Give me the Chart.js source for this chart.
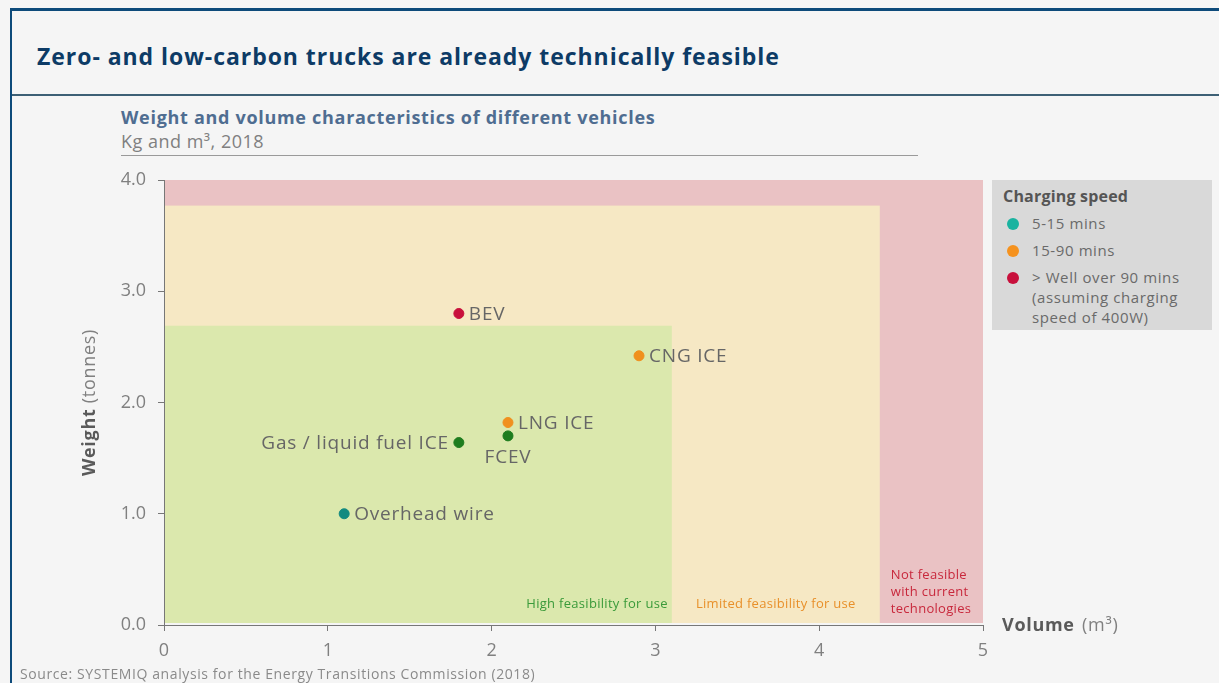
<!DOCTYPE html>
<html>
<head>
<meta charset="utf-8">
<script src="https://cdn.jsdelivr.net/npm/chart.js@4.4.1/dist/chart.umd.min.js"></script>
<style>
  body { margin: 0; background: #f5f5f5; font-family: "Open Sans", Lato, sans-serif; }
  #wrap { position: relative; width: 1219px; height: 683px; overflow: hidden; }
  #frame { position: absolute; left: 10px; top: 8px; width: 1220px; height: 700px;
           border-left: 2px solid #0d4a7a; border-top: 3px solid #0d4a7a; }
  #divider { position: absolute; left: 12px; top: 94px; width: 1210px; height: 0; border-top: 2px solid #3d6075; }
  #title { position: absolute; left: 37px; top: 40px; font-size: 23px; font-weight: bold; color: #0d3b66; letter-spacing: 0.95px; }
  #sub1 { position: absolute; left: 121px; top: 105px; font-size: 18px; font-weight: bold; color: #4f6d91; letter-spacing: 0.7px; }
  #sub2 { position: absolute; left: 121px; top: 129px; font-size: 18px; color: #808080; letter-spacing: 0.5px; }
  #subline { position: absolute; left: 121px; top: 155px; width: 797px; border-top: 1px solid #9a9a9a; }
  #source { position: absolute; left: 20px; top: 664px; font-size: 14px; color: #8a8a8a; letter-spacing: 0.6px; }
  #legend { position: absolute; left: 992px; top: 180px; width: 220px; height: 150px; background: #d9d9d9; }
  #legend .hd { position: absolute; left: 11px; top: 5px; font-size: 16px; font-weight: bold; color: #555; letter-spacing: 0.2px; }
  #legend .it { position: absolute; left: 40px; font-size: 15px; color: #6a6a6a; line-height: 20px; letter-spacing: 0.6px; }
  #legend .dot { position: absolute; left: 15px; width: 12px; height: 12px; border-radius: 50%; }
  canvas { position: absolute; left: 0; top: 0; }
</style>
</head>
<body>
<div id="wrap">
  <div id="frame"></div>
  <div id="divider"></div>
  <div id="title">Zero- and low-carbon trucks are already technically feasible</div>
  <div id="sub1">Weight and volume characteristics of different vehicles</div>
  <div id="sub2">Kg and m³, 2018</div>
  <div id="subline"></div>
  <canvas id="myChart" width="1219" height="683"></canvas>
  <div id="legend">
    <div class="hd">Charging speed</div>
    <div class="dot" style="top:38px;background:#1ab3a0"></div>
    <div class="it" style="top:33px">5-15 mins</div>
    <div class="dot" style="top:65px;background:#f5921e"></div>
    <div class="it" style="top:60px">15-90 mins</div>
    <div class="dot" style="top:92px;background:#c8103c"></div>
    <div class="it" style="top:87px">&gt; Well over 90 mins<br>(assuming charging<br>speed of 400W)</div>
  </div>
  <div id="source">Source: SYSTEMIQ analysis for the Energy Transitions Commission (2018)</div>
</div>
<script>
// vehicles
const vehicles = ['BEV', 'CNG ICE', 'LNG ICE', 'FCEV', 'Gas / liquid fuel ICE', 'Overhead wire'];
const volumes = [1.8, 2.9, 2.1, 2.1, 1.8, 1.1];
const weights = [2.8, 2.42, 1.82, 1.70, 1.64, 1.0];
const pointColors = ['#c8103c', '#f0901e', '#f0901e', '#1e7d1e', '#1e7d1e', '#138a80'];
const labelSide = ['right', 'right', 'right', 'below', 'left', 'right'];

// feasibility zones
const zoneNames = [['Not feasible', 'with current', 'technologies'], ['Limited feasibility for use'], ['High feasibility for use']];
const zoneVolumeMax = [5, 4.37, 3.1];
const zoneWeightMax = [4.0, 3.77, 2.69];
const zoneFill = ['#eac2c4', '#f6e8c4', '#dbe8ad'];
const zoneText = ['#c8283c', '#e8902a', '#3a9a3a'];

const xTicks = [0, 1, 2, 3, 4, 5];
const yTicks = [0, 1, 2, 3, 4];

const FONT = '"Open Sans", Lato, sans-serif';

const zones = {
    id: 'zones',
    beforeDatasetsDraw(chart) {
        const ctx = chart.ctx, x = chart.scales.x, y = chart.scales.y;
        ctx.save();
        zoneVolumeMax.forEach(function(v, i) {
            const x0 = x.getPixelForValue(0) + 1, x1 = x.getPixelForValue(v);
            const y0 = y.getPixelForValue(zoneWeightMax[i]), y1 = y.getPixelForValue(0) - 2;
            ctx.fillStyle = zoneFill[i];
            ctx.fillRect(x0, y0, x1 - x0, y1 - y0);
        });
        ctx.font = '13px ' + FONT;
        ctx.letterSpacing = '0.3px';
        ctx.textBaseline = 'middle';
        // high feasibility - right aligned at its edge
        ctx.fillStyle = zoneText[2];
        ctx.textAlign = 'right';
        ctx.fillText(zoneNames[2][0], x.getPixelForValue(zoneVolumeMax[2]) - 4, y.getPixelForValue(0) - 21);
        // limited - centred in its strip
        ctx.fillStyle = zoneText[1];
        ctx.textAlign = 'center';
        ctx.fillText(zoneNames[1][0], (x.getPixelForValue(zoneVolumeMax[2]) + x.getPixelForValue(zoneVolumeMax[1])) / 2, y.getPixelForValue(0) - 21);
        // not feasible
        ctx.fillStyle = zoneText[0];
        ctx.textAlign = 'left';
        zoneNames[0].forEach(function(t, k) {
            ctx.fillText(t, x.getPixelForValue(zoneVolumeMax[1]) + 11, y.getPixelForValue(0) - 50 + k * 17);
        });
        ctx.restore();
    },
    afterDatasetsDraw(chart) {
        const ctx = chart.ctx;
        const pts = chart.getDatasetMeta(0).data;
        ctx.save();
        ctx.font = '19px ' + FONT;
        ctx.letterSpacing = '0.8px';
        ctx.fillStyle = '#666';
        ctx.textBaseline = 'middle';
        pts.forEach(function(p, i) {
            if (labelSide[i] == 'right') {
                ctx.textAlign = 'left';
                ctx.fillText(vehicles[i], p.x + 10, p.y + 1);
            } else if (labelSide[i] == 'left') {
                ctx.textAlign = 'right';
                ctx.fillText(vehicles[i], p.x - 10, p.y + 1);
            } else {
                ctx.textAlign = 'center';
                ctx.fillText(vehicles[i], p.x, p.y + 22);
            }
        });
        // axis titles
        const a = chart.chartArea;
        ctx.letterSpacing = '0.7px';
        ctx.fillStyle = '#5a5a5a';
        ctx.textAlign = 'left';
        ctx.font = 'bold 18px ' + FONT;
        ctx.fillText('Volume', a.right + 19, a.bottom + 1);
        let w = ctx.measureText('Volume ').width;
        ctx.font = '18px ' + FONT;
        ctx.fillStyle = '#808080';
        ctx.fillText('(m³)', a.right + 21 + w, a.bottom + 1);

        ctx.translate(90, (a.top + a.bottom) / 2);
        ctx.rotate(-Math.PI / 2);
        ctx.font = 'bold 18px ' + FONT;
        const w1 = ctx.measureText('Weight ').width;
        ctx.font = '18px ' + FONT;
        const w2 = ctx.measureText('(tonnes)').width;
        let sx = -(w1 + w2) / 2;
        ctx.font = 'bold 18px ' + FONT;
        ctx.fillStyle = '#5a5a5a';
        ctx.fillText('Weight', sx, 0);
        ctx.font = '18px ' + FONT;
        ctx.fillStyle = '#808080';
        ctx.fillText('(tonnes)', sx + w1, 0);
        ctx.restore();
    }
};

new Chart(document.getElementById('myChart'), {
    type: 'scatter',
    data: {
        datasets: [{
            data: volumes.map(function(v, i) { return { x: v, y: weights[i] }; }),
            backgroundColor: pointColors,
            borderColor: pointColors,
            pointRadius: 5,
            pointHoverRadius: 5
        }]
    },
    options: {
        responsive: false,
        animation: false,
        layout: { padding: { left: 104, top: 180, right: 236, bottom: 18 } },
        plugins: { legend: { display: false }, tooltip: { enabled: false } },
        scales: {
            x: {
                min: 0, max: 5,
                afterBuildTicks(s) { s.ticks = xTicks.map(function(v) { return { value: v }; }); },
                afterFit(s) { s.height = 40; },
                grid: { drawOnChartArea: false, color: '#777', tickLength: 6 },
                border: { color: '#777' },
                ticks: { color: '#808080', font: { size: 18, family: FONT }, padding: 9 }
            },
            y: {
                min: 0, max: 4,
                afterBuildTicks(s) { s.ticks = yTicks.map(function(v) { return { value: v }; }); },
                afterFit(s) { s.width = 60; },
                grid: { drawOnChartArea: false, color: '#777', tickLength: 6 },
                border: { color: '#777' },
                ticks: { color: '#808080', font: { size: 18, family: FONT }, padding: 12,
                         callback: function(v) { return v.toFixed(1); } }
            }
        }
    },
    plugins: [zones]
});
</script>
</body>
</html>
